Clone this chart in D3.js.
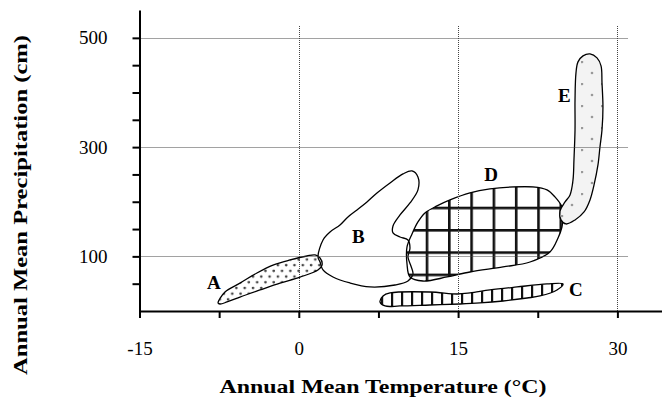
<!DOCTYPE html>
<html><head><meta charset="utf-8">
<script src="https://cdn.jsdelivr.net/npm/d3@7"></script>
<style>
html,body{margin:0;padding:0;background:#fff;}
svg{display:block;font-family:"Liberation Serif","Times New Roman",serif;}
</style></head>
<body><svg id="c" width="662" height="408"></svg>
<script>
// ---- data (temperature °C, precipitation cm) ----
const xTicks = [-15, -7.5, 0, 7.5, 15, 22.5, 30];
const xTickLabels = ["-15", "", "0", "", "15", "", "30"];
const yTicks = [50, 100, 150, 200, 250, 300, 350, 400, 450, 500];
const yTickLabels = ["", "100", "", "", "", "300", "", "", "", "500"];
const gridX = [0, 15, 30];
const gridY = [100, 300, 500];
const xTitle = "Annual Mean Temperature (°C)";
const yTitle = "Annual Mean Precipitation (cm)";

const regionA = [[-7.6,14.7],[-6.95,34.8],[-5.54,51],[-3.94,69.6],[-2.43,84],[-0.83,93.4],[0.77,100.7],[1.53,102.6],[2.0,97],[2.19,84],[1.8,75],[0.11,62],[-1.77,51],[-3.65,38.5],[-5.54,25.6],[-6.76,16.5],[-7.42,12.8]];
const regionB = [[1.81,98.9],[2.28,130],[2.94,144.7],[3.88,157.5],[4.63,172.2],[5.48,185],[6.42,199.6],[7.36,216],[8.59,234.4],[9.81,250.9],[10.66,256.4],[11.22,245.4],[11.22,221.6],[10.47,197.8],[9.53,175.8],[8.87,155.7],[8.87,142.9],[9.53,135.5],[10.28,130],[10.47,115.4],[10.28,98.9],[10.56,82.4],[10.75,67.8],[10.28,54.9],[9.06,47.6],[6.7,44],[4.82,51.3],[3.22,62.3],[2.28,75.1],[2.0,89.7]];
const regionC = [[7.65,16.5],[7.93,27.5],[8.59,33],[12.35,34.8],[14.9,31.1],[16.12,33],[18.0,38.5],[20.55,44],[23.37,49.5],[24.88,49.5],[24.31,38.5],[22.71,27.5],[21.49,23.8],[19.23,18.3],[17.06,14.7],[15.18,12.8],[12.35,11],[9.53,9.2],[8.12,9.2]];
const regionD = [[11.22,163],[11.88,179.5],[13.01,192.3],[14.24,203.3],[16.12,216.1],[18.0,223.4],[20.17,227.1],[22.05,227.1],[23.37,221.6],[24.12,208.8],[24.78,190.5],[24.88,172.2],[24.78,153.8],[24.41,133.7],[23.65,108.1],[21.77,89.7],[19.23,80.6],[16.12,71.4],[13.96,62.3],[11.69,54.9],[10.47,62.3],[10.19,86.1],[10.19,117.2],[10.66,141]];
const regionE = [[26.1,435.9],[26.29,456],[26.76,467],[27.42,470.7],[28.08,463.4],[28.46,448.7],[28.55,417.6],[28.64,373.6],[28.55,331.5],[28.36,300.4],[28.17,267.4],[27.8,230.8],[27.42,203.3],[26.86,181.3],[26.01,166.7],[25.16,159.3],[24.69,166.7],[24.6,183.2],[25.07,199.6],[25.54,212.5],[25.82,239.9],[25.91,276.6],[26.01,331.5],[26.01,386.4]];
const labels = ["A","B","C","D","E"];
const labelPos = [[-8.0,52],[5.6,137],[26.1,40],[18.1,250],[25.0,395]];

// ---- scales ----
const svg = d3.select("#c");
const x = d3.scaleLinear().domain([-15, 34.2]).range([139.5, 662]);
const y = d3.scaleLinear().domain([0, 551]).range([311, 10]);

// ---- patterns ----
const defs = svg.append("defs");
const pA = defs.append("pattern").attr("id","pA").attr("patternUnits","userSpaceOnUse")
  .attr("width",8.3).attr("height",11.4).attr("x",2).attr("y",1);
pA.append("circle").attr("cx",2).attr("cy",2).attr("r",1.35).attr("fill","#444");
pA.append("circle").attr("cx",6.15).attr("cy",7.7).attr("r",1.35).attr("fill","#444");

const pC = defs.append("pattern").attr("id","pC").attr("patternUnits","userSpaceOnUse")
  .attr("width",10).attr("height",10).attr("x",391).attr("y",0);
pC.append("rect").attr("x",0).attr("y",0).attr("width",2.2).attr("height",10).attr("fill","#111");

const pD = defs.append("pattern").attr("id","pD").attr("patternUnits","userSpaceOnUse")
  .attr("width",22.3).attr("height",22.3).attr("x",425.7).attr("y",206.7);
pD.append("rect").attr("x",0).attr("y",0).attr("width",2.6).attr("height",22.3).attr("fill","#111");
pD.append("rect").attr("x",0).attr("y",0).attr("width",22.3).attr("height",2.6).attr("fill","#111");

const pE = defs.append("pattern").attr("id","pE").attr("patternUnits","userSpaceOnUse")
  .attr("width",20).attr("height",22).attr("x",581).attr("y",61);
pE.append("rect").attr("width",20).attr("height",22).attr("fill","#f3f3f3");
pE.append("circle").attr("cx",1).attr("cy",1).attr("r",1.3).attr("fill","#999");
pE.append("circle").attr("cx",11).attr("cy",12).attr("r",1.3).attr("fill","#999");

// ---- regions ----
const line = d3.line().x(d=>x(d[0])).y(d=>y(d[1])).curve(d3.curveCatmullRomClosed.alpha(0.5));
const regions = [[regionA,"url(#pA)"],[regionB,"none"],[regionC,"url(#pC)"],[regionD,"url(#pD)"],[regionE,"url(#pE)"]];
svg.append("g").selectAll("path").data(regions).join("path")
  .attr("d", d=>line(d[0])).attr("fill", d=>d[1])
  .attr("stroke","#000").attr("stroke-width",1.3).attr("stroke-linejoin","round");

// ---- grid ----
const g = svg.append("g").attr("stroke","#444").attr("stroke-width",1).attr("stroke-dasharray","1,1");
g.selectAll("line.h").data(gridY).join("line").attr("class","h")
  .attr("x1",x(-15)).attr("x2",x(31)).attr("y1",d=>Math.round(y(d))+0.5).attr("y2",d=>Math.round(y(d))+0.5);
g.selectAll("line.v").data(gridX).join("line").attr("class","v")
  .attr("y1",y(0)).attr("y2",y(522)).attr("x1",d=>Math.round(x(d))+0.5).attr("x2",d=>Math.round(x(d))+0.5);

// ---- axes ----
const xAxis = d3.axisBottom(x).tickValues(xTicks).tickSize(7).tickSizeOuter(0).tickPadding(25)
  .tickFormat((d,i)=>xTickLabels[i]);
const gx = svg.append("g").attr("transform",`translate(0,${y(0)})`).call(xAxis);
const yAxis = d3.axisLeft(y).tickValues(yTicks).tickSize(7).tickSizeOuter(0).tickPadding(25)
  .tickFormat((d,i)=>yTickLabels[i]);
const gy = svg.append("g").attr("transform",`translate(${x(-15)},0)`).call(yAxis);
[gx,gy].forEach(a=>{
  a.select(".domain").attr("stroke","#000").attr("stroke-width",2);
  a.selectAll(".tick line").attr("stroke","#000").attr("stroke-width",2);
  a.selectAll("text").attr("font-family","Liberation Serif, serif").attr("font-size",19).attr("fill","#000");
});
gx.selectAll("text").attr("dy","0.71em").attr("y",31);

// ---- labels ----
svg.append("g").selectAll("text").data(labels).join("text")
  .attr("x",(d,i)=>x(labelPos[i][0])).attr("y",(d,i)=>y(labelPos[i][1]))
  .attr("text-anchor","middle").attr("dy","0.35em")
  .attr("font-size",19).attr("font-weight","bold").text(d=>d);

// ---- titles ----
svg.append("text").attr("x",383).attr("y",393).attr("text-anchor","middle")
  .attr("font-size",19).attr("font-weight","bold")
  .attr("textLength",327).attr("lengthAdjust","spacingAndGlyphs").text(xTitle);
svg.append("text").attr("transform","translate(27,205) rotate(-90)").attr("text-anchor","middle")
  .attr("font-size",19).attr("font-weight","bold")
  .attr("textLength",340).attr("lengthAdjust","spacingAndGlyphs").text(yTitle);
</script></body></html>
